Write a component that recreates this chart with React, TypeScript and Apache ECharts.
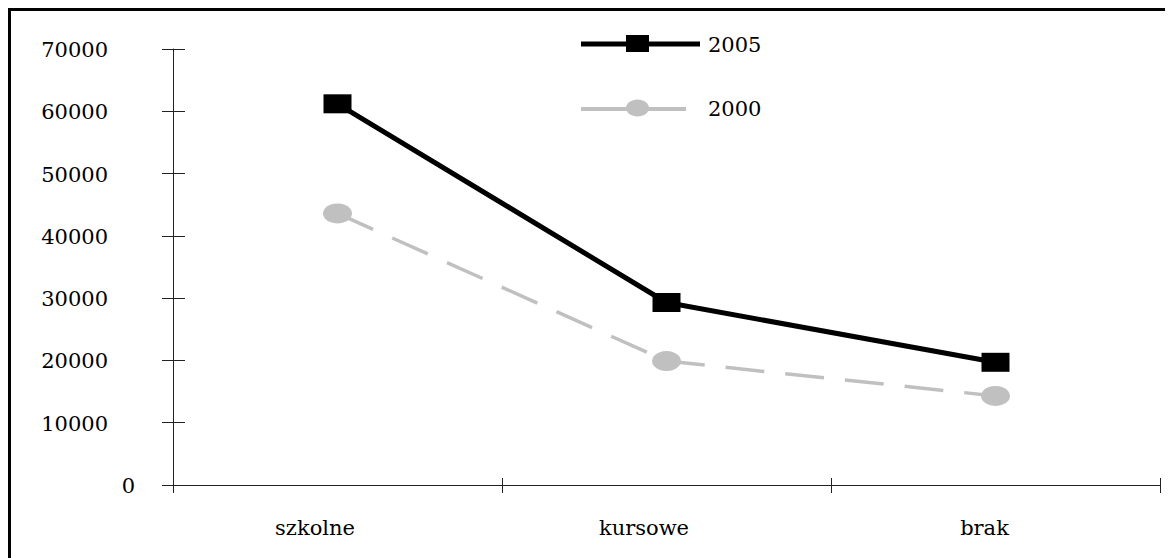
import React, { useEffect, useRef } from "react";
import * as echarts from "echarts";

const categories = ["szkolne", "kursowe", "brak"];
const values2005 = [61200, 29300, 19700];
const values2000 = [43600, 19900, 14300];
const yTicks = [0, 10000, 20000, 30000, 40000, 50000, 60000, 70000];
const seriesNames = ["2005", "2000"];

const FONT = "DejaVu Serif";
const FS = 21;
const labelShift: Record<string, number> = { szkolne: 45, kursowe: 45, brak: 22 };

export default function App() {
  const ref = useRef<HTMLDivElement>(null);
  useEffect(() => {
    if (!ref.current) return;
    const chart = echarts.init(ref.current, undefined, { renderer: "svg" });
    const yMin = yTicks[0];
    const yMax = yTicks[yTicks.length - 1];
    const yInt = yTicks[1] - yTicks[0];
    const xRich: Record<string, any> = {};
    categories.forEach((c, i) => {
      xRich["c" + i] = {
        fontFamily: FONT,
        fontSize: FS,
        color: "#000",
        padding: [0, labelShift[c] || 0, 0, 0],
      };
    });
    chart.setOption({
      animation: false,
      backgroundColor: "#fff",
      textStyle: { fontFamily: FONT },
      grid: { left: 162, top: 38, width: 987, height: 436, containLabel: false },
      xAxis: [
        {
          type: "category",
          data: categories,
          boundaryGap: true,
          position: "bottom",
          axisLine: { show: true, lineStyle: { color: "#222", width: 1 } },
          axisTick: { show: true, length: 8, alignWithLabel: false, lineStyle: { color: "#222" } },
          axisLabel: {
            margin: 32,
            fontFamily: FONT,
            fontSize: FS,
            color: "#000",
            formatter: (v: string) => `{c${categories.indexOf(v)}|${v}}`,
            rich: xRich,
          },
          splitLine: { show: false },
        },
        {
          type: "category",
          data: categories,
          boundaryGap: true,
          position: "bottom",
          axisLine: { show: false },
          axisTick: { show: true, inside: true, length: 7, lineStyle: { color: "#222" } },
          axisLabel: { show: false },
          splitLine: { show: false },
        },
      ],
      yAxis: [
        {
          type: "value",
          min: yMin,
          max: yMax,
          interval: yInt,
          axisLine: { show: true, lineStyle: { color: "#222", width: 1 } },
          axisTick: { show: true, length: 11, lineStyle: { color: "#222" } },
          axisLabel: {
            margin: 38,
            fontFamily: FONT,
            fontSize: FS,
            color: "#000",
            formatter: (v: number) => (v === 0 ? `{z|${v}}` : `{n|${v}}`),
            rich: {
              z: { fontFamily: FONT, fontSize: FS, color: "#000", padding: [2, 0, 0, 0] },
              n: { fontFamily: FONT, fontSize: FS, color: "#000", padding: [2, 27, 0, 0] },
            },
          },
          splitLine: { show: false },
        },
        {
          type: "value",
          min: yMin,
          max: yMax,
          interval: yInt,
          position: "left",
          axisLine: { show: false },
          axisTick: { show: true, inside: true, length: 12, lineStyle: { color: "#222" } },
          axisLabel: { show: false },
          splitLine: { show: false },
        },
      ],
      series: [
        {
          name: seriesNames[1],
          type: "line",
          data: values2000,
          symbol: "circle",
          symbolSize: [29, 20],
          lineStyle: { color: "#c0c0c0", width: 3.5, type: [39, 21], cap: "butt" },
          itemStyle: { color: "#c0c0c0" },
          z: 2,
        },
        {
          name: seriesNames[0],
          type: "line",
          data: values2005,
          symbol: "rect",
          symbolSize: [28, 19],
          lineStyle: { color: "#000", width: 5 },
          itemStyle: { color: "#000" },
          z: 3,
        },
      ],
      graphic: [
        { type: "line", shape: { x1: 570, y1: 33, x2: 689, y2: 33 }, style: { stroke: "#000", lineWidth: 5 } },
        { type: "rect", shape: { x: 615, y: 24, width: 23, height: 17 }, style: { fill: "#000" } },
        {
          type: "text",
          x: 697,
          y: 34,
          style: { text: seriesNames[0], fontFamily: FONT, fontSize: FS, fill: "#000", verticalAlign: "middle" },
        },
        { type: "line", shape: { x1: 570, y1: 98, x2: 675, y2: 98 }, style: { stroke: "#c0c0c0", lineWidth: 4 } },
        { type: "ellipse", shape: { cx: 626.5, cy: 97, rx: 11.5, ry: 8.5 }, style: { fill: "#c0c0c0" } },
        {
          type: "text",
          x: 697,
          y: 98,
          style: { text: seriesNames[1], fontFamily: FONT, fontSize: FS, fill: "#000", verticalAlign: "middle" },
        },
      ],
    });
    return () => chart.dispose();
  }, []);
  return (
    <div
      style={{
        width: 1165,
        height: 550,
        boxSizing: "border-box",
        borderLeft: "3px solid #000",
        borderTop: "3px solid #000",
        background: "#fff",
      }}
    >
      <div ref={ref} style={{ width: 1162, height: 547 }} />
    </div>
  );
}
